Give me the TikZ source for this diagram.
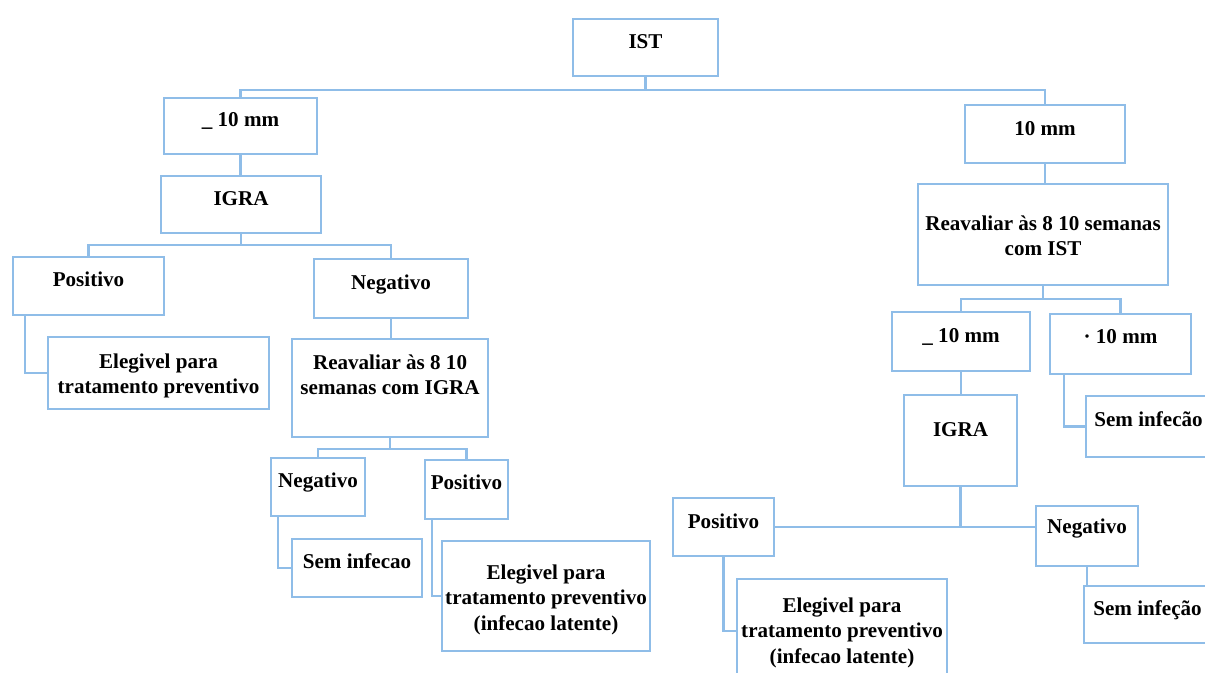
\documentclass[tikz,border=0pt]{standalone}
\usepackage{fontspec}
\setmainfont{Liberation Serif}
\usepackage{tikz}
\definecolor{azul}{HTML}{8FBDE8}
\tikzstyle{caixa}=[rectangle, draw=azul, line width=1.2pt, anchor=north west, inner sep=0pt, align=center, font=\fontsize{12pt}{14.5pt}\selectfont\bfseries, text height=0.58cm]
\tikzstyle{liga}=[draw=azul, line width=1.2pt]

\begin{document}
\begin{tikzpicture}[x=0.02cm,y=-0.02cm]
	\useasboundingbox (0,0) rectangle (1205,673);
	% raiz
	\node[caixa,minimum width=2.9cm,text depth=0.56cm](ist) at (572,18) {IST};
	
	% ramo esquerdo
	\node[caixa,minimum width=3.06cm,text height=0.56cm,text depth=0.56cm](lmm) at (163,97) {\_ 10 mm};
	\node[caixa,minimum width=3.2cm,text depth=0.56cm](ligra) at (160,175) {IGRA};
	\node[caixa,minimum width=3.02cm,text depth=0.58cm](lpos) at (12,256) {Positivo};
	\node[caixa,minimum width=3.08cm,text height=0.6cm,text depth=0.58cm](lneg) at (313,258) {Negativo};
	\node[caixa,minimum width=4.42cm,text height=1.13cm,text depth=0.31cm](lele) at (47,336) {Elegivel para\\tratamento preventivo};
	\node[caixa,minimum width=3.92cm,text height=1.11cm,text depth=0.85cm](lreav) at (291,338) {Reavaliar às 8 10\\semanas com IGRA};
	\node[caixa,minimum width=1.88cm,text depth=0.58cm](lneg2) at (270,457) {Negativo};
	\node[caixa,minimum width=1.66cm,text depth=0.6cm](lpos2) at (424,459) {Positivo};
	\node[caixa,minimum width=2.6cm,text depth=0.58cm](lsem) at (291,538) {Sem infecao};
	\node[caixa,minimum width=4.16cm,text height=1.78cm,text depth=0.42cm](lele2) at (441,540) {Elegivel para\\tratamento preventivo\\(infecao latente)};
	
	% ramo direito
	\node[caixa,minimum width=3.2cm,text height=0.6cm,text depth=0.56cm](rmm) at (964,104) {10 mm};
	\node[caixa,minimum width=5cm,text height=1.43cm,text depth=0.59cm](rreav) at (917,183) {Reavaliar às 8 10 semanas\\com IST};
	\node[caixa,minimum width=2.76cm,text height=0.6cm,text depth=0.58cm](rge) at (891,311) {\_ 10 mm};
	\node[caixa,minimum width=2.82cm,text depth=0.62cm](rlt) at (1049,313) {· 10 mm};
	\node[caixa,minimum width=2.26cm,text height=0.82cm,text depth=1cm](rigra) at (903,394) {IGRA};
	\node[caixa,minimum width=2.5cm,text height=0.6cm,text depth=0.62cm](rsem) at (1085,395) {Sem infecão};
	\node[caixa,minimum width=2.02cm,text height=0.6cm,text depth=0.56cm](rpos) at (672,497) {Positivo};
	\node[caixa,minimum width=2.04cm,text height=0.54cm,text depth=0.66cm](rneg) at (1035,505) {Negativo};
	\node[caixa,minimum width=4.2cm,text height=1.68cm,text depth=0.4cm](rele) at (736,578) {Elegivel para\\tratamento preventivo\\(infecao latente)};
	\node[caixa,minimum width=2.54cm,text depth=0.56cm](rsem2) at (1083,585) {Sem infeção};
	
	% ligacoes
	\draw[liga] (ist.south) -- ++(0,13) -| (lmm.north);
	\draw[liga] (ist.south) -- ++(0,13) -| (rmm.north);
	\draw[liga] (lmm.south) -- (lmm.south |- ligra.north);
	\draw[liga] (ligra.south) -- ++(0,11) -| (lpos.north);
	\draw[liga] (ligra.south) -- ++(0,11) -| (lneg.north);
	\draw[liga] ([xshift=0.26cm]lpos.south west) |- (lele.west);
	\draw[liga] (lneg.south) -- (lneg.south |- lreav.north);
	\draw[liga] (lreav.south) -- ++(0,11) -| (lneg2.north);
	\draw[liga] (lreav.south) -- ++(0,11) -| (lpos2.north);
	\draw[liga] ([xshift=0.16cm]lneg2.south west) |- (lsem.west);
	\draw[liga] ([xshift=0.16cm]lpos2.south west) |- (lele2.west);
	\draw[liga] (rmm.south) -- (rmm.south |- rreav.north);
	\draw[liga] (rreav.south) -- ++(0,13) -| (rge.north);
	\draw[liga] (rreav.south) -- ++(0,13) -| (rlt.north);
	\draw[liga] (rge.south) -- (rge.south |- rigra.north);
	\draw[liga] ([xshift=0.3cm]rlt.south west) |- (rsem.west);
	\draw[liga] (rigra.south) -- (rigra.south |- rpos.east);
	\draw[liga] (rpos.east) -- (rpos.east -| rneg.west);
	\draw[liga] (rpos.south) |- (rele.west);
	\draw[liga] (rneg.south) -- (rneg.south |- rsem2.north);
\end{tikzpicture}
\end{document}
